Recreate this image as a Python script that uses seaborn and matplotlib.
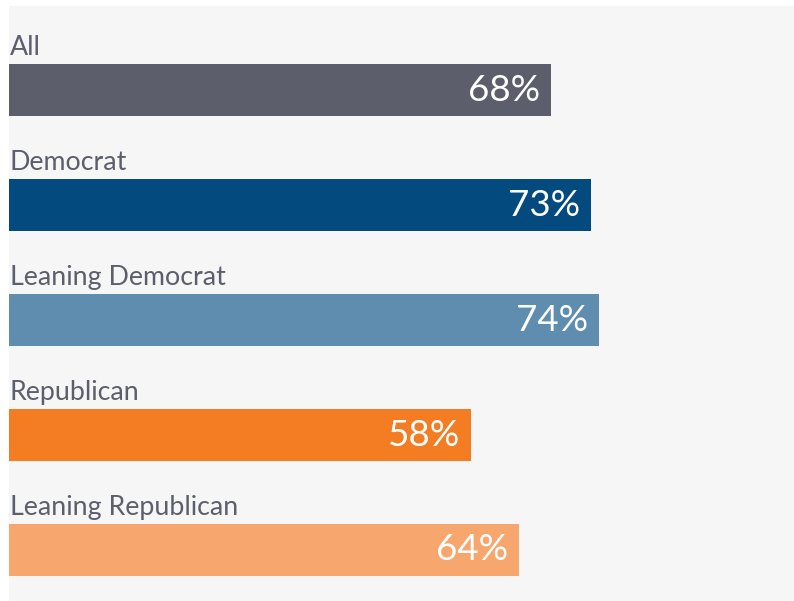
import matplotlib
matplotlib.use("Agg")
import matplotlib.pyplot as plt
import seaborn as sns
import pandas as pd

categories = ["All", "Democrat", "Leaning Democrat", "Republican", "Leaning Republican"]
values = [68, 73, 74, 58, 64]
colors = ["#5c5f6b", "#034b7e", "#5e8db0", "#f47c22", "#f7a76e"]

sns.set_theme(style="white")
plt.rcParams["font.family"] = ["Lato", "DejaVu Sans"]

df = pd.DataFrame({"group": categories, "share": values})

W, H = 794, 601
fig = plt.figure(figsize=(W / 100, H / 100), dpi=100)
fig.patch.set_facecolor("white")
ax = fig.add_axes([9 / W, 0, 1 - 9 / W, (H - 6) / H])
ax.set_facecolor("#f6f6f6")

sns.barplot(data=df, y="group", x="share", hue="group", palette=colors,
            orient="h", width=52 / 115, legend=False, ax=ax, saturation=1,
            linewidth=0, edgecolor="none")

px_per_unit = 7.97
ax.set_xlim(0, (W - 9) / px_per_unit)
row = 115.0
ax.set_ylim((601 - 90) / row, (6 - 90) / row)

for i, (cat, v) in enumerate(zip(categories, values)):
    # group name sits above its bar
    ax.text(0.12, i - 26 / row - 9 / row, cat, ha="left", va="baseline",
            fontsize=19.3, color="#5c5f6b")
    # value inside the bar end
    ax.text(v - 11 / px_per_unit, i, f"{v}%", ha="right", va="center",
            fontsize=26.5, color="white")

ax.set_xlabel("")
ax.set_ylabel("")
ax.set_xticks([])
ax.set_yticks([])
for s in ax.spines.values():
    s.set_visible(False)

fig.savefig("out.png", dpi=100, facecolor=fig.get_facecolor())
